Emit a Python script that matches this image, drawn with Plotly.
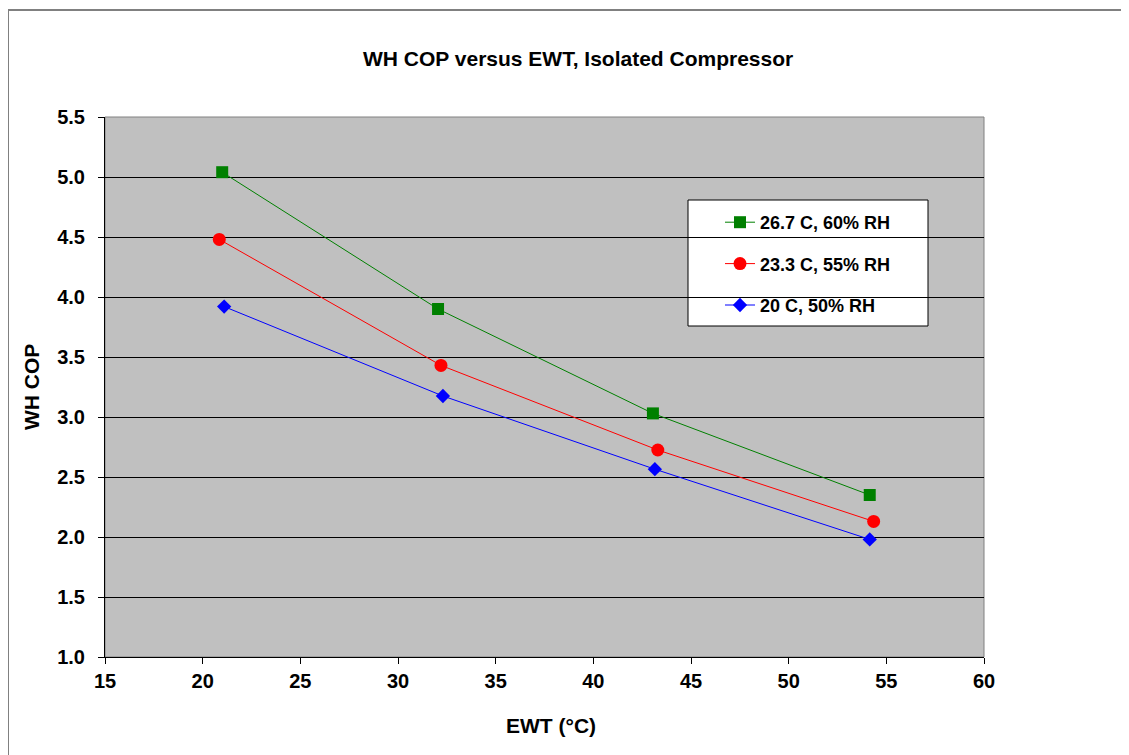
import plotly.graph_objects as go

# Data
ewt_267 = [21.0, 32.05, 43.05, 54.15]
cop_267 = [5.04, 3.90, 3.03, 2.35]
ewt_233 = [20.85, 32.2, 43.3, 54.35]
cop_233 = [4.48, 3.43, 2.725, 2.13]
ewt_20 = [21.1, 32.3, 43.15, 54.15]
cop_20 = [3.92, 3.175, 2.565, 1.98]

names = ["26.7 C, 60% RH", "23.3 C, 55% RH", "20 C, 50% RH"]
colors = ["#008000", "#FF0000", "#0000FF"]
symbols = ["square", "circle", "diamond"]
msizes = [12, 13, 11]

FONT = "Liberation Sans, Arial, sans-serif"

fig = go.Figure()
for i, (xs, ys) in enumerate([(ewt_267, cop_267), (ewt_233, cop_233), (ewt_20, cop_20)]):
    fig.add_trace(go.Scatter(
        x=xs, y=ys, name=names[i], mode="lines+markers",
        legendgroup=f"g{i}",
        line=dict(color=colors[i], width=1),
        marker=dict(symbol=symbols[i], size=msizes[i], color=colors[i]),
    ))

OFF = 8  # page body margin
W, H = 1129 - OFF, 755 - OFF
# screen-pixel positions of the plot area
SL, SR, ST, SB = 105, 984, 117, 657
L, R, T, B = SL - OFF, SR - OFF, ST - OFF, SB - OFF
pw, ph = SR - SL, SB - ST

def px(xs):
    return (xs - SL) / pw

def py(ys):
    return (SB - ys) / ph

fig.update_layout(
    width=W, height=H,
    margin=dict(l=L, r=W - R, t=T, b=H - B),
    paper_bgcolor="white",
    plot_bgcolor="#C0C0C0",
    font=dict(family=FONT, size=18, color="black", weight="bold"),
    showlegend=True,
    legend=dict(
        x=px(720), y=py(204), xanchor="left", yanchor="top",
        bgcolor="rgba(0,0,0,0)", borderwidth=0,
        tracegroupgap=15,
        font=dict(family=FONT, size=18, color="black", weight="bold"),
    ),
    xaxis=dict(
        range=[15, 60], dtick=5, tick0=15,
        showgrid=False, zeroline=False,
        showline=True, linecolor="black", linewidth=1,
        ticks="outside", ticklen=6, tickcolor="black",
        tickfont=dict(family=FONT, size=20, color="black", weight="bold"),
    ),
    yaxis=dict(
        range=[1.0, 5.5], dtick=0.5, tick0=1.0, tickformat=".1f",
        showgrid=True, gridcolor="black", gridwidth=1,
        zeroline=False,
        showline=True, linecolor="black", linewidth=1,
        ticks="outside", ticklen=6, tickcolor="black",
        ticklabelstandoff=9,
        tickfont=dict(family=FONT, size=20, color="black", weight="bold"),
    ),
    shapes=[
        # outer chart border
        dict(type="rect", xref="paper", yref="paper",
             x0=px(8), x1=px(1160), y0=py(790), y1=py(10),
             line=dict(color="#808080", width=2), layer="above"),
        # plot area border
        dict(type="rect", xref="paper", yref="paper",
             x0=0, x1=1, y0=0, y1=1,
             line=dict(color="#808080", width=1), layer="below"),
        # legend box
        dict(type="rect", xref="paper", yref="paper",
             x0=px(688), x1=px(928), y0=py(326), y1=py(200),
             line=dict(color="black", width=1), fillcolor="white", layer="below"),
    ],
    annotations=[
        dict(text="WH COP versus EWT, Isolated Compressor", xref="paper", yref="paper",
             x=px(578), y=py(58), xanchor="center", yanchor="middle",
             showarrow=False, font=dict(family=FONT, size=21, color="black", weight="bold")),
        dict(text="EWT (°C)", xref="paper", yref="paper",
             x=px(551), y=py(725), xanchor="center", yanchor="middle",
             showarrow=False, font=dict(family=FONT, size=21, color="black", weight="bold")),
        dict(text="WH COP", xref="paper", yref="paper",
             x=px(31), y=py(387), xanchor="center", yanchor="middle", textangle=-90,
             showarrow=False, font=dict(family=FONT, size=21, color="black", weight="bold")),
    ],
)

fig.write_html("out.html")
